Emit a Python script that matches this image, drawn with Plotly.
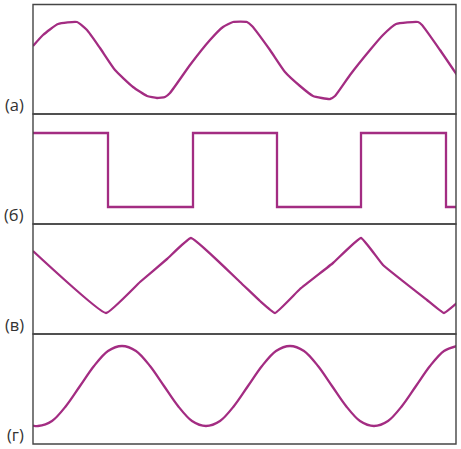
import plotly.graph_objects as go

W, H = 461, 449

# ---- data (time offset, amplitude) ----
t_a = [0, 10, 25, 44, 54, 67, 82, 100, 114, 124, 132, 137, 157, 177, 190, 200, 214, 219, 237, 252, 267, 280, 297, 302, 317, 337, 350, 363, 385, 389, 407, 424]
v_a = [68, 79, 90, 92, 84, 66, 44, 27, 18, 16, 17, 21, 49, 74, 87, 92, 92, 88, 64, 42, 28, 18, 15, 18, 39, 64, 79, 90, 92, 89, 64, 39]

t_b = [0, 75, 160, 244, 328, 413, 424]
v_b = [91, 17, 91, 17, 91, 17, 17]

t_c = [0, 73, 107, 134, 158, 207, 227, 242, 267, 300, 328, 350, 394, 411, 424]
v_c = [83, 21, 52, 75, 96, 52, 33, 21, 45, 71, 96, 69, 34, 21, 31]

t_d = [0, 5, 19, 33, 47, 61, 75, 89, 103, 117, 131, 145, 159, 173, 187, 201, 215, 229, 243, 257, 271, 285, 299, 313, 327, 341, 355, 369, 383, 397, 411, 424]
v_d = [18.5, 18, 23, 38, 58, 78, 93, 98, 93, 78, 58, 38, 23, 18, 23, 38, 58, 78, 93, 98, 93, 78, 58, 38, 23, 18, 23, 38, 58, 78, 93, 98]

labels = ["(а)", "(б)", "(в)", "(г)"]

series = [(t_a, v_a, "spline", 0.45), (t_b, v_b, "hv", None),
          (t_c, v_c, "spline", 0.3), (t_d, v_d, "spline", 0.9)]

COLOR = "#A32C82"
FRAME = "#454545"

x0, x1 = 33, 456
panel_px = [(4.5, 114), (114, 224), (224, 334), (334, 444)]

def py(p):
    return 1 - p / H

def px(p):
    return p / W

fig = go.Figure()
layout = dict(
    width=W, height=H,
    margin=dict(l=0, r=0, t=0, b=0),
    paper_bgcolor="white", plot_bgcolor="white",
    showlegend=False,
)
shapes = []
annotations = []
for i, ((t, v, shape, sm), (top, bot)) in enumerate(zip(series, panel_px)):
    n = i + 1
    xa = "x" if n == 1 else f"x{n}"
    ya = "y" if n == 1 else f"y{n}"
    line = dict(color=COLOR, width=2.3, shape=shape)
    if sm is not None:
        line["smoothing"] = sm
    fig.add_trace(go.Scatter(x=t, y=v, mode="lines", xaxis=xa, yaxis=ya,
                             line=line, hoverinfo="skip"))
    layout["xaxis" if n == 1 else f"xaxis{n}"] = dict(
        domain=[px(x0), px(x1)], range=[0, 423], visible=False, anchor=ya)
    layout["yaxis" if n == 1 else f"yaxis{n}"] = dict(
        domain=[py(bot), py(top)], range=[0, bot - top], visible=False, anchor=xa)
    shapes.append(dict(type="rect", xref="paper", yref="paper",
                       x0=px(x0), x1=px(x1), y0=py(bot), y1=py(top),
                       line=dict(color=FRAME, width=1.4), layer="above"))
    annotations.append(dict(text=labels[i], xref="paper", yref="paper",
                            x=px(25.5), y=py(bot - 10), xanchor="right", yanchor="middle",
                            showarrow=False,
                            font=dict(family="Open Sans, Noto Sans, sans-serif", size=16.5, color="#333333")))

layout["shapes"] = shapes
layout["annotations"] = annotations
fig.update_layout(**layout)
fig.write_html("out.html", config={"displayModeBar": False},
               post_script="document.body.style.margin='0';document.body.style.padding='0';")
